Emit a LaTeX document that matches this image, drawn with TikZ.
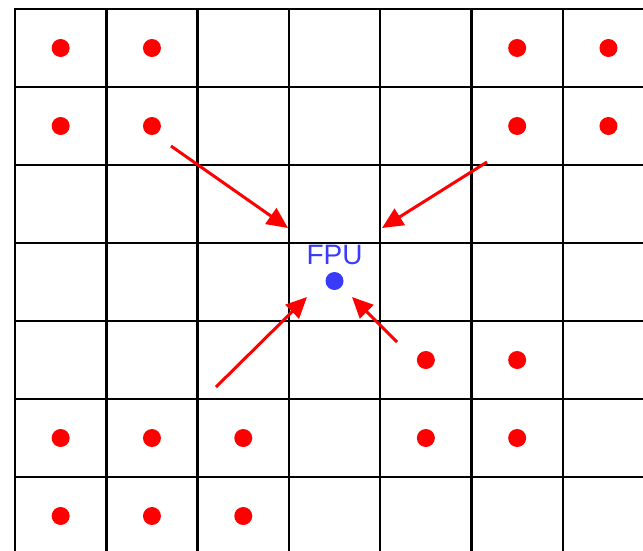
\documentclass[tikz,border=0pt]{standalone}
\usepackage{fontspec}
\setsansfont{Liberation Sans}
\usetikzlibrary{
  positioning,
  arrows.meta
}
\definecolor{peRed}{RGB}{255,0,0}
\definecolor{fpuBlue}{RGB}{58,58,250}
\tikzset{
  gridline/.style={line width=2.4pt,black,line cap=rect},
  pe/.style={circle,fill=peRed,inner sep=0pt,minimum size=18pt},
  fpu/.style={circle,fill=fpuBlue,inner sep=0pt,minimum size=18pt},
  fpulabel/.style={font=\sffamily\fontsize{28}{30}\selectfont,text=fpuBlue,inner sep=0pt},
  feed/.style={-{Triangle[length=21pt,width=19pt]},line width=3pt,peRed}
}

\begin{document}
\begin{tikzpicture}[x=1pt,y=-1pt]
    \useasboundingbox (0,0) rectangle (643,550);
    \clip (0,0) rectangle (643,550);

    % Rejilla (celdas de 91.3 x 78)
    \foreach \i in {0,...,7} \draw[gridline] ({15+91.3*\i},9) -- ({15+91.3*\i},570);
    \foreach \j in {0,...,7} \draw[gridline] (15,{9+78*\j}) -- (670,{9+78*\j});

    % PEs ocupados
    \foreach \c/\r in {0/0,1/0,5/0,6/0,
                       0/1,1/1,5/1,6/1,
                       4/4,5/4,
                       0/5,1/5,2/5,4/5,5/5,
                       0/6,1/6,2/6}
      \node[pe] (pe-\c-\r) at ({60.65+91.3*\c},{48+78*\r}) {};

    % FPU compartida
    \node[fpu] (fpu) at (334.5,281) {};
    \node[fpulabel,above=7pt of fpu] (fpulbl) {FPU};

    % Extremos de las peticiones
    \coordinate (tlS) at (171,146);  \coordinate (tlE) at (288,228);
    \coordinate (trS) at (487,162);  \coordinate (trE) at (382,228);
    \coordinate (blS) at (216,387);  \coordinate (blE) at (307,297);
    \coordinate (brS) at (397,342);  \coordinate (brE) at (352,297);

    % Peticiones hacia la FPU
    \foreach \a in {tl,tr,bl,br} \draw[feed] (\a S) -- (\a E);
\end{tikzpicture}
\end{document}
